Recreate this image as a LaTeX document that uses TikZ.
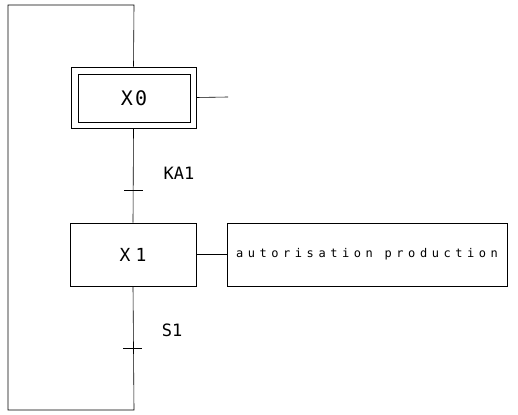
\documentclass[tikz,border=0pt]{standalone}
\usepackage{fontspec}
\setmonofont{DejaVu Sans Mono}
\usepackage{tikz}

\begin{document}
\begin{tikzpicture}[x=1pt,y=-1pt,line width=0.6pt,
    etape/.style={draw,minimum width=126pt,minimum height=63pt,inner sep=0pt},
    action/.style={draw,minimum width=280pt,minimum height=63pt,inner sep=0pt},
    txt/.style 2 args={font=\ttfamily\fontsize{#1}{#1}\selectfont\addfontfeatures{LetterSpace=#2}}]
  \useasboundingbox (0,0) rectangle (518,414);
  % etapes
  \node[etape,minimum width=125pt,minimum height=61pt] (X0) at (133.5,97.5) {};
  \node[draw,minimum width=112pt,minimum height=48pt,inner sep=0pt,
        txt={20}{12}] (X0i) at (134,98) {X0};
  \node[etape,txt={18}{28}] (X1) at (133,254.5) {X1};
  \node[action,txt={12}{38}] (A1) at (367,254.5) {autorisation production};
  % transitions
  \coordinate (T1) at (134,190);
  \coordinate (T2) at (134,348);
  \node[txt={17}{0}] (KA1) at (179,173) {KA1};
  \node[txt={17}{0}] (S1) at (172,330) {S1};
  \draw ([xshift=-10pt]T1) -- ([xshift=9pt]T1);
  \draw ([xshift=-11pt]T2) -- ([xshift=8pt]T2);
  % liaisons
  \coordinate (out0) at (228,97);
  \coordinate (bas) at (134,410);
  \coordinate (haut) at (134,5);
  \draw (X0.east) -- (out0);
  \draw (X0.south) -- (X1.north);
  \draw (X1.east) -- (A1.west);
  \draw (X1.south) -- (bas) -- (8,410) -- (8,5) -- (haut) -- (X0.north);
\end{tikzpicture}
\end{document}
